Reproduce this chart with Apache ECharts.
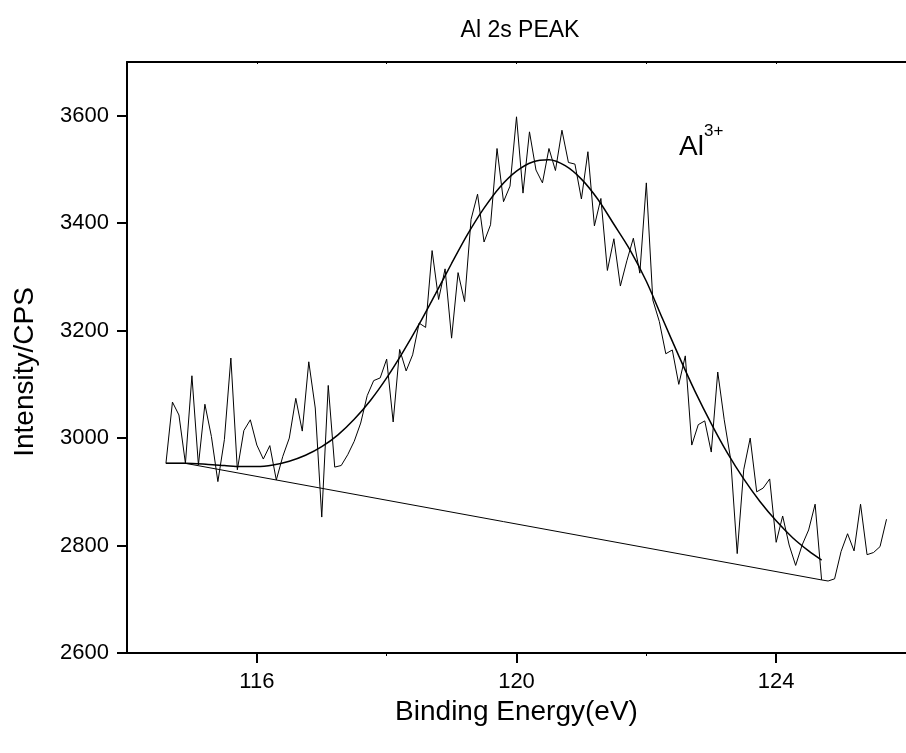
<!DOCTYPE html>
<html>
<head>
<meta charset="utf-8">
<script src="https://cdn.jsdelivr.net/npm/echarts@6/dist/echarts.min.js"></script>
<style>html,body{margin:0;padding:0;background:#fff}#c{width:906px;height:753px}</style>
</head>
<body>
<div id="c"></div>
<script>
// Raw spectrum (binding energy, eV) and intensity (CPS)
const energy = [114.6,114.7,114.8,114.9,115.0,115.1,115.2,115.3,115.4,115.5,115.6,115.7,115.8,115.9,116.0,116.1,116.2,116.3,116.4,116.5,116.6,116.7,116.8,116.9,117.0,117.1,117.2,117.3,117.4,117.5,117.6,117.7,117.8,117.9,118.0,118.1,118.2,118.3,118.4,118.5,118.6,118.7,118.8,118.9,119.0,119.1,119.2,119.3,119.4,119.5,119.6,119.7,119.8,119.9,120.0,120.1,120.2,120.3,120.4,120.5,120.6,120.7,120.8,120.9,121.0,121.1,121.2,121.3,121.4,121.5,121.6,121.7,121.8,121.9,122.0,122.1,122.2,122.3,122.4,122.5,122.6,122.7,122.8,122.9,123.0,123.1,123.2,123.3,123.4,123.5,123.6,123.7,123.8,123.9,124.0,124.1,124.2,124.3,124.4,124.5,124.6,124.7,124.8,124.9,125.0,125.1,125.2,125.3,125.4,125.5,125.6,125.7];
const intensity = [2953,3067,3043,2953,3116,2950,3063,3003,2919,2997,3149,2941,3014,3034,2987,2961,2986,2922,2966,3000,3074,3013,3142,3056,2853,3098,2946,2949,2969,2994,3028,3079,3107,3112,3147,3030,3165,3125,3155,3214,3206,3349,3258,3315,3186,3308,3254,3407,3454,3365,3397,3539,3440,3469,3598,3456,3570,3499,3475,3539,3498,3573,3513,3510,3445,3533,3395,3446,3312,3371,3283,3330,3372,3307,3475,3257,3217,3157,3164,3100,3153,2987,3025,3032,2974,3123,3034,2960,2785,2941,3000,2900,2907,2924,2806,2855,2801,2763,2801,2829,2877,2736,2734,2738,2789,2822,2790,2877,2783,2787,2798,2849];
// Fitted Al3+ peak envelope
const fitEnergy = [114.6,114.9,115.25,115.5,115.75,116.0,116.25,116.5,116.75,117.0,117.25,117.5,117.75,118.0,118.25,118.5,118.75,119.0,119.25,119.5,119.75,120.0,120.25,120.5,120.75,121.0,121.25,121.5,121.75,122.0,122.25,122.5,122.75,123.0,123.25,123.5,123.75,124.0,124.25,124.5,124.7];
const fitIntensity = [2953,2953,2951,2949,2947,2947,2950,2957,2968,2984,3006,3035,3070,3112,3160,3212,3268,3325,3380,3428,3468,3497,3514,3518,3507,3482,3445,3398,3350,3292,3222,3153,3087,3027,2972,2924,2882,2846,2815,2790,2773];
// Background line
const bgEnergy = [114.6,114.9,124.7];
const bgIntensity = [2953,2953,2736];
// Tick labels
const xTicks = [116,120,124];
const xMinorTicks = [118,122];
const yTicks = [2600,2800,3000,3200,3400,3600];

const zip = (a,b) => a.map((v,i)=>[v,b[i]]);
const font = '"Liberation Sans", Arial, sans-serif';

const chart = echarts.init(document.getElementById('c'), null, {renderer:'canvas'});
chart.setOption({
  animation:false,
  backgroundColor:'#ffffff',
  title:{text:'Al 2s PEAK', left:515, top:14, textAlign:'center',
    textStyle:{fontFamily:font, fontSize:23, fontWeight:'normal', color:'#000'}},
  grid:{left:127, top:62, right:-7, bottom:100},
  xAxis:[{
    type:'value', min:114, max:126, position:'bottom',
    axisLine:{onZero:false, lineStyle:{color:'#000', width:2}},
    axisTick:{show:true, inside:false, length:10, customValues:xTicks, lineStyle:{color:'#000', width:2}},
    axisLabel:{customValues:xTicks, color:'#000', fontFamily:font, fontSize:22, margin:18,
      formatter:v=>String(v)},
    splitLine:{show:false},
    name:'Binding Energy(eV)', nameLocation:'middle', nameGap:35,
    nameTextStyle:{fontFamily:font, fontSize:28, color:'#000', verticalAlign:'top'}
  },{
    type:'value', min:114, max:126, position:'bottom', gridIndex:0,
    axisLine:{show:false},
    axisTick:{show:true, length:3, customValues:xMinorTicks, lineStyle:{color:'#000', width:1}},
    axisLabel:{show:false}, splitLine:{show:false}
  },{
    type:'value', min:114, max:126, position:'top',
    axisLine:{onZero:false, lineStyle:{color:'#000', width:2}},
    axisTick:{show:true, inside:true, length:2, customValues:[116,118,120,122,124], lineStyle:{color:'#000', width:1}},
    axisLabel:{show:false}, splitLine:{show:false}
  }],
  yAxis:[{
    type:'value', min:2600, max:3700,
    axisLine:{onZero:false, lineStyle:{color:'#000', width:2}},
    axisTick:{show:true, length:10, customValues:yTicks, lineStyle:{color:'#000', width:2}},
    axisLabel:{customValues:yTicks, color:'#000', fontFamily:font, fontSize:22, margin:18,
      formatter:v=>String(v)},
    splitLine:{show:false}
  }],
  graphic:[
    {type:'text', x:25, y:372, rotation:Math.PI/2,
      style:{text:'Intensity/CPS', fontFamily:font, fontSize:28, fill:'#000', align:'center', verticalAlign:'middle'}},
    {type:'text', x:679, y:147,
      style:{text:'Al', fontFamily:font, fontSize:28, fill:'#000', align:'left', verticalAlign:'middle'}},
    {type:'text', x:704, y:131,
      style:{text:'3+', fontFamily:font, fontSize:17, fill:'#000', align:'left', verticalAlign:'middle'}}
  ],
  series:[
    {type:'line', name:'raw', data:zip(energy,intensity), xAxisIndex:0, yAxisIndex:0, showSymbol:false,
      lineStyle:{color:'#000', width:1}, z:3},
    {type:'line', name:'fit', data:zip(fitEnergy,fitIntensity), xAxisIndex:0, yAxisIndex:0, showSymbol:false, smooth:0.3,
      lineStyle:{color:'#000', width:1.5}, z:4},
    {type:'line', name:'bg', data:zip(bgEnergy,bgIntensity), xAxisIndex:0, yAxisIndex:0, showSymbol:false,
      lineStyle:{color:'#000', width:1}, z:4}
  ]
});
</script>
</body>
</html>
